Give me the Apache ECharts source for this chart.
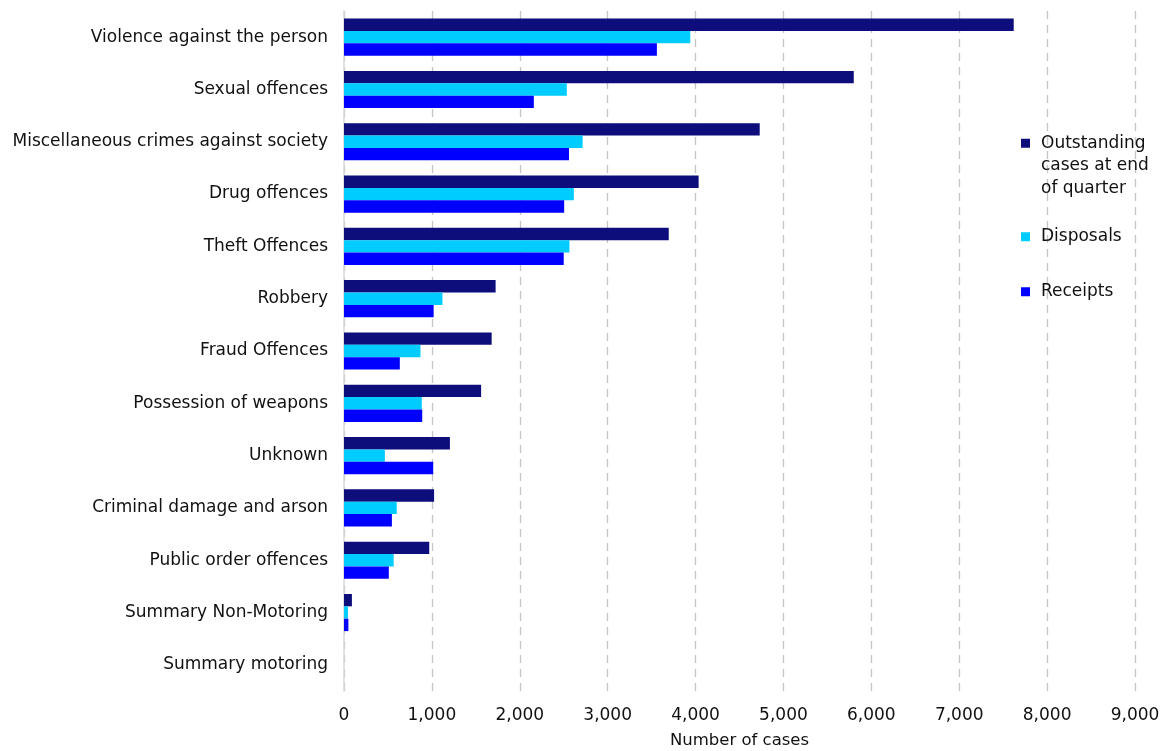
<!DOCTYPE html>
<html>
<head>
<meta charset="utf-8" />
<title>Cases by offence group</title>
<script src="https://cdn.jsdelivr.net/npm/echarts@6/dist/echarts.min.js"></script>
<style>
  html, body { margin: 0; padding: 0; background: #fff; }
  #main { width: 1162px; height: 751px; }
</style>
</head>
<body>
<div id="main"></div>
<script type="text/javascript">
// categories, top to bottom
var offences = ['Violence against the person', 'Sexual offences', 'Miscellaneous crimes against society',
  'Drug offences', 'Theft Offences', 'Robbery', 'Fraud Offences', 'Possession of weapons', 'Unknown',
  'Criminal damage and arson', 'Public order offences', 'Summary Non-Motoring', 'Summary motoring'];

var outstanding = [7620, 5800, 4730, 4035, 3695, 1725, 1680, 1560, 1205, 1025, 970, 90, 0];
var disposals   = [3940, 2535, 2715, 2615, 2565, 1120, 870, 885, 465, 600, 565, 45, 0];
var receipts    = [3560, 2160, 2560, 2505, 2500, 1020, 635, 890, 1015, 545, 510, 50, 0];

var seriesNames = ['Outstanding\ncases at end\nof quarter', 'Disposals', 'Receipts'];
var xTicks = [0, 9000, 1000]; // min, max, interval

var font = 'DejaVu Sans, Liberation Sans, Arial, sans-serif';
var myChart = echarts.init(document.getElementById('main'));

// one legend block per series so each can sit where the original has it
function legendAt(name, top, fmt) {
  return {
    data: [name],
    orient: 'vertical', left: 1021, top: top, padding: 0,
    itemWidth: 9, itemHeight: 9, icon: 'rect',
    formatter: fmt,
    textStyle: { fontSize: 17, color: '#111', lineHeight: 22.5, padding: [0, 0, 0, 6], fontFamily: font }
  };
}

myChart.setOption({
  animation: false,
  textStyle: { fontFamily: font },
  grid: { left: 344, right: 27, top: 11, bottom: 60, outerBoundsMode: 'none' },
  legend: [
    // two blank lines on top so the icon lines up with the first line of text
    legendAt(seriesNames[0], 87, function (n) { return '\n\n' + n; }),
    legendAt(seriesNames[1], 225.5),
    legendAt(seriesNames[2], 280.5)
  ],
  xAxis: {
    type: 'value',
    min: xTicks[0], max: xTicks[1], interval: xTicks[2],
    name: 'Number of cases', nameLocation: 'middle', nameGap: 41, nameMoveOverlap: false,
    nameTextStyle: { fontSize: 16.5, color: '#111', fontFamily: font, verticalAlign: 'top' },
    axisLine: { show: false },
    axisTick: { show: false },
    axisLabel: {
      fontSize: 17, color: '#111', margin: 16, fontFamily: font,
      formatter: function (v) { return v.toLocaleString('en-GB'); }
    },
    splitLine: { show: true, lineStyle: { color: '#c4c4c4', type: [8, 6], width: 1.3 } }
  },
  yAxis: {
    type: 'category',
    data: offences,
    inverse: true,
    axisLine: { show: true, lineStyle: { color: '#d9d9d9', width: 1.5 } },
    axisTick: { show: false },
    axisLabel: { fontSize: 17, color: '#111', margin: 16, fontFamily: font }
  },
  series: [
    { name: seriesNames[0], type: 'bar', data: outstanding, barGap: '0%', barCategoryGap: '29%',
      itemStyle: { color: '#0d0d7c' } },
    { name: seriesNames[1], type: 'bar', data: disposals, barGap: '0%', barCategoryGap: '29%',
      itemStyle: { color: '#00ccff' } },
    { name: seriesNames[2], type: 'bar', data: receipts, barGap: '0%', barCategoryGap: '29%',
      itemStyle: { color: '#0000ff' } }
  ]
});
</script>
</body>
</html>
